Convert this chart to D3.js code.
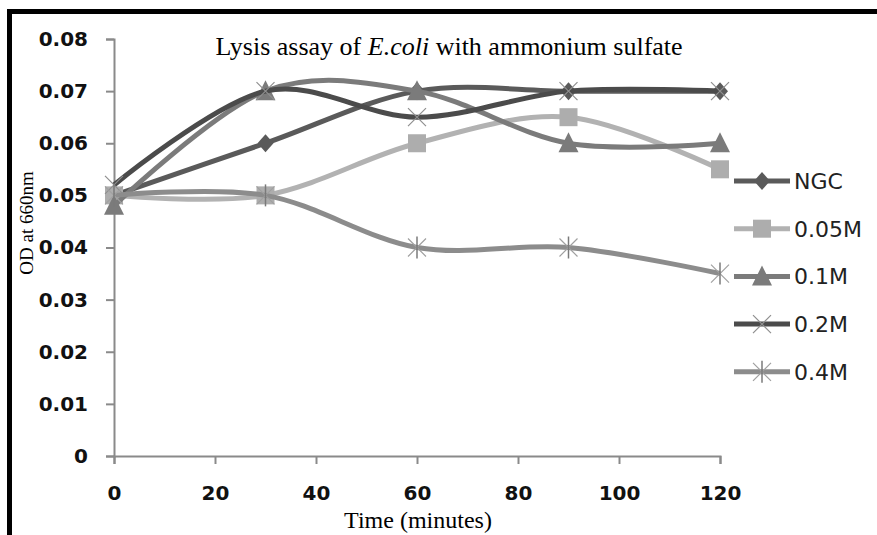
<!DOCTYPE html>
<html>
<head>
<meta charset="utf-8">
<script src="https://cdn.jsdelivr.net/npm/d3@7"></script>
<style>
  body { margin: 0; background: #fff; }
  svg { display: block; }
</style>
</head>
<body>
<div id="chart"></div>
<script>
// chart data
var times = [0, 30, 60, 90, 120];
var seriesNames = ["NGC", "0.05M", "0.1M", "0.2M", "0.4M"];
var ngc = [0.05, 0.06, 0.07, 0.07, 0.07];
var m005 = [0.05, 0.05, 0.06, 0.065, 0.055];
var m01 = [0.048, 0.07, 0.07, 0.06, 0.06];
var m02 = [0.052, 0.07, 0.065, 0.07, 0.07];
var m04 = [0.05, 0.05, 0.04, 0.04, 0.035];
var yTicks = [0, 0.01, 0.02, 0.03, 0.04, 0.05, 0.06, 0.07, 0.08];
var xTicks = [0, 20, 40, 60, 80, 100, 120];

var allValues = [ngc, m005, m01, m02, m04];
var colors = ["#5a5a5a", "#b2b2b2", "#7b7b7b", "#4b4b4b", "#8c8c8c"];
var markers = ["diamond", "square", "triangle", "x", "star"];

var svg = d3.select("#chart").append("svg")
  .attr("width", 877)
  .attr("height", 535);

svg.append("rect").attr("width", 877).attr("height", 535).attr("fill", "#fff");

// black frame on top and left
svg.append("rect").attr("x", 8).attr("y", 9).attr("width", 869).attr("height", 5).attr("fill", "#000");
svg.append("rect").attr("x", 7).attr("y", 9).attr("width", 5).attr("height", 526).attr("fill", "#000");

var margin = { top: 39, left: 114 };
var width = 606, height = 417;

var x = d3.scaleLinear().domain([0, 120]).range([0, width]);
var y = d3.scaleLinear().domain([0, 0.08]).range([height, 0]);

var g = svg.append("g")
  .attr("transform", "translate(" + margin.left + "," + margin.top + ")");

// axes
var yAxis = g.append("g")
  .call(d3.axisLeft(y).tickValues(yTicks).tickSize(8).tickPadding(18)
    .tickFormat(function (d) { return d === 0 ? "0" : d3.format(".2f")(d); }));
var xAxis = g.append("g")
  .attr("transform", "translate(0," + height + ")")
  .call(d3.axisBottom(x).tickValues(xTicks).tickSize(8).tickPadding(22));

[yAxis, xAxis].forEach(function (ax) {
  ax.select(".domain").attr("stroke", "#8a8a8a").attr("stroke-width", 2);
  ax.selectAll(".tick line").attr("stroke", "#8a8a8a").attr("stroke-width", 2);
  ax.selectAll(".tick text")
    .attr("fill", "#111")
    .style("font-family", "DejaVu Sans, sans-serif")
    .style("font-weight", "bold")
    .style("font-size", "20px");
});
// y axis ticks sit outside to the left only
yAxis.selectAll(".tick line").attr("x1", 0).attr("x2", -8);

// lines
var line = d3.line()
  .x(function (d, i) { return x(times[i]); })
  .y(function (d) { return y(d); })
  .curve(d3.curveCardinal.tension(0));

function drawMarker(sel, type, color, cx, cy) {
  if (type === "diamond") {
    sel.append("path")
      .attr("d", "M" + cx + "," + (cy - 9) + "L" + (cx + 8) + "," + cy + "L" + cx + "," + (cy + 9) + "L" + (cx - 8) + "," + cy + "Z")
      .attr("fill", color);
  } else if (type === "square") {
    sel.append("rect")
      .attr("x", cx - 9).attr("y", cy - 9).attr("width", 18).attr("height", 18)
      .attr("fill", "#adadad");
  } else if (type === "triangle") {
    sel.append("path")
      .attr("d", "M" + cx + "," + (cy - 11) + "L" + (cx + 10) + "," + (cy + 9) + "L" + (cx - 10) + "," + (cy + 9) + "Z")
      .attr("fill", color);
  } else if (type === "x") {
    sel.append("path")
      .attr("d", "M" + (cx - 9) + "," + (cy - 9) + "L" + (cx + 9) + "," + (cy + 9) + "M" + (cx + 9) + "," + (cy - 9) + "L" + (cx - 9) + "," + (cy + 9))
      .attr("stroke", "#8f8f8f").attr("stroke-width", 1.2).attr("fill", "none");
  } else if (type === "star") {
    sel.append("path")
      .attr("d", "M" + (cx - 9) + "," + (cy - 9) + "L" + (cx + 9) + "," + (cy + 9) + "M" + (cx + 9) + "," + (cy - 9) + "L" + (cx - 9) + "," + (cy + 9))
      .attr("stroke", "#a0a0a0").attr("stroke-width", 1.2).attr("fill", "none");
    sel.append("path")
      .attr("d", "M" + cx + "," + (cy - 11) + "L" + cx + "," + (cy + 11))
      .attr("stroke", "#7a7a7a").attr("stroke-width", 1.5).attr("fill", "none");
  }
}

allValues.forEach(function (vals, s) {
  var sg = g.append("g");
  sg.append("path")
    .datum(vals)
    .attr("d", line)
    .attr("fill", "none")
    .attr("stroke", colors[s])
    .attr("stroke-width", 5);
  vals.forEach(function (v, i) {
    drawMarker(sg, markers[s], colors[s], x(times[i]), y(v));
  });
});

// title
var title = svg.append("text")
  .attr("x", 449)
  .attr("y", 55)
  .attr("text-anchor", "middle")
  .style("font-family", "Liberation Serif, Times New Roman, serif")
  .style("font-size", "26px")
  .attr("fill", "#000");
title.append("tspan").text("Lysis assay  of ");
title.append("tspan").style("font-style", "italic").text("E.coli");
title.append("tspan").text(" with ammonium sulfate");

// axis labels
svg.append("text")
  .attr("x", 418)
  .attr("y", 528)
  .attr("text-anchor", "middle")
  .style("font-family", "Liberation Serif, Times New Roman, serif")
  .style("font-size", "24px")
  .text("Time (minutes)");

svg.append("text")
  .attr("transform", "translate(33,223) rotate(-90)")
  .attr("text-anchor", "middle")
  .style("font-family", "Liberation Serif, Times New Roman, serif")
  .style("font-size", "19px")
  .text("OD at 660nm");

// legend
var legend = svg.append("g").attr("transform", "translate(734,181)");
seriesNames.forEach(function (name, s) {
  var row = legend.append("g").attr("transform", "translate(0," + (s * 47.7) + ")");
  row.append("line")
    .attr("x1", 0).attr("x2", 56).attr("y1", 0).attr("y2", 0)
    .attr("stroke", colors[s]).attr("stroke-width", 5);
  drawMarker(row, markers[s], colors[s], 28, 0);
  row.append("text")
    .attr("x", 60)
    .attr("y", 8)
    .style("font-family", "DejaVu Sans, sans-serif")
    .style("font-size", "22px")
    .attr("fill", "#222")
    .text(name);
});
</script>
</body>
</html>
